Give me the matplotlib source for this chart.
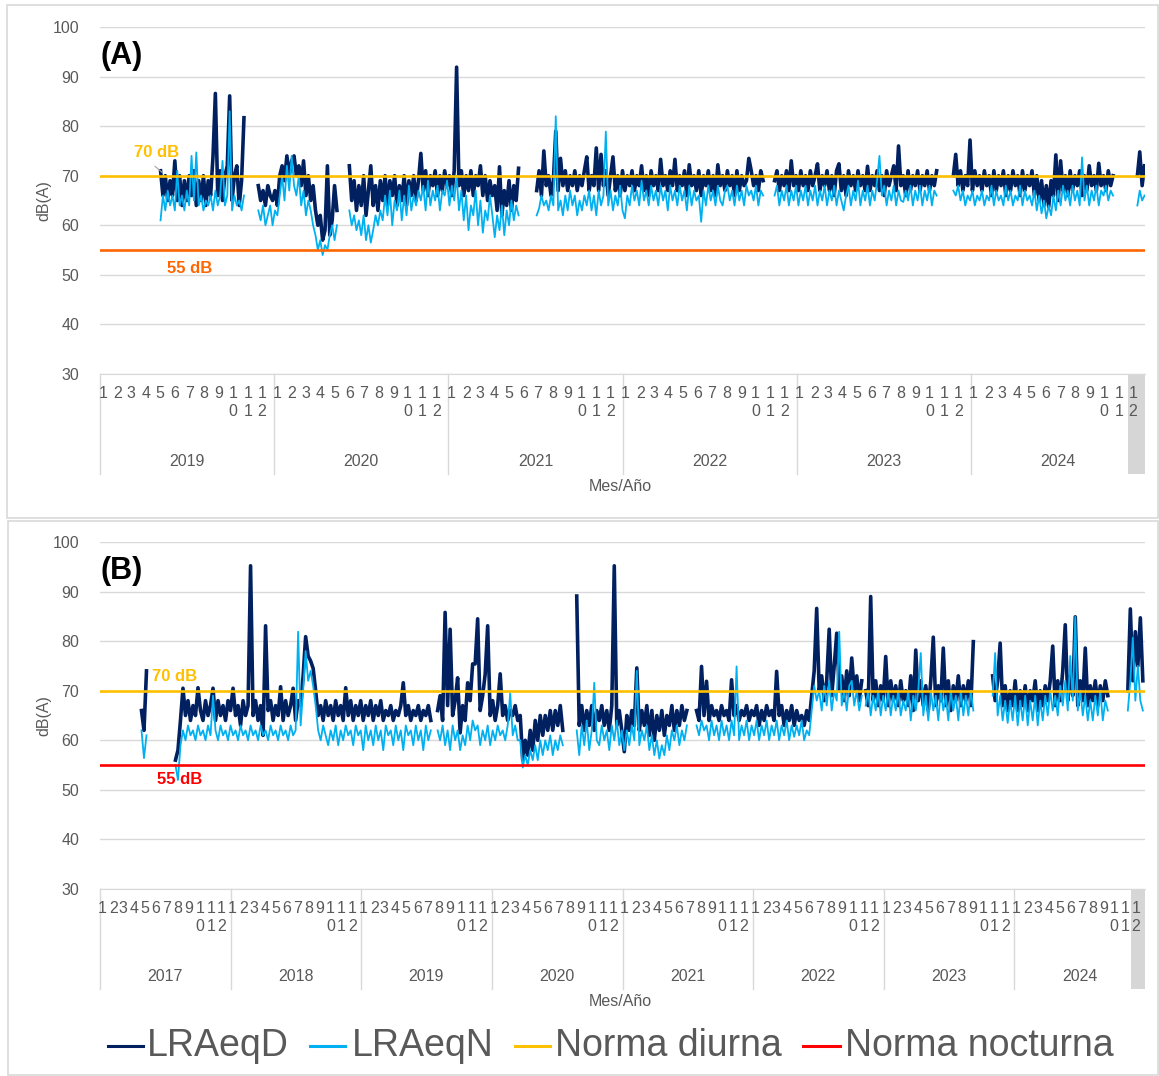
import numpy as np
import matplotlib
matplotlib.use("Agg")
import matplotlib.pyplot as plt
from matplotlib.transforms import blended_transform_factory
from matplotlib.patches import Rectangle
from matplotlib.lines import Line2D

plt.rcParams['font.family'] = ['Liberation Sans', 'DejaVu Sans']

NAVY = '#002060'
CYAN = '#00B0F0'
GOLD = '#FFC000'
ORANGE = '#FF6600'
RED = '#FF0000'
GRID = '#D9D9D9'
TXT = '#595959'

# ---------------- data ----------------
month_labels = ['1', '2', '3', '4', '5', '6', '7', '8', '9', '10', '11', '12']
years_a = [2019, 2020, 2021, 2022, 2023, 2024]
years_b = [2017, 2018, 2019, 2020, 2021, 2022, 2023, 2024]
norma_diurna = 70
norma_nocturna = 55
series_names = ['LRAeqD', 'LRAeqN', 'Norma diurna', 'Norma nocturna']

# Panel (A): measurement blocks, one value every step_a days from each start date
step_a = 5
starts_a = ['2019-05-08', '2019-11-29', '2020-06-07', '2021-07-05',
            '2022-11-16', '2023-11-26', '2024-12-16']

d_a1 = [71, 66, 70, 65, 69, 66, 73, 65, 70, 64, 69, 65, 70, 66, 71, 64, 69, 65, 70, 64,
        69, 66, 73.8, 86.6, 66, 71, 65, 70, 72, 86.1, 65, 70, 72, 64, 69, 81.7]
n_a1 = [61, 66, 63, 67, 64, 66, 63, 71, 64, 66, 63, 67, 64, 74, 65, 74.7, 64, 66, 63, 65,
        64, 66, 63, 67, 64, 66, 73, 64, 66, 83, 63, 66, 64, 65, 63, 66]
d_a2 = [68, 65, 67, 64, 68, 66, 65, 67, 64, 70, 72, 69, 74, 70, 73, 74, 70, 72, 68, 73,
        66, 70, 65, 68, 63, 60, 62, 57, 59, 72, 58, 61, 68, 63]
n_a2 = [63, 61, 64, 60, 62, 64, 60, 63, 62, 66, 70, 65, 72, 67, 74, 68, 66, 70, 64, 67,
        62, 65, 63, 60, 58, 55, 57, 54, 56, 55, 58, 60, 57, 60]
d_a3 = [72, 65, 69, 63, 68, 64, 70, 62, 67, 72, 64, 68, 63, 69,
        65, 70, 64, 69, 66, 70, 64, 68, 65, 70, 64, 69, 66, 70, 65, 69,
        74.5, 67, 71, 66, 70, 68, 71, 66, 70, 67, 71, 68, 70, 66, 71, 91.9,
        68, 71, 66, 70, 67, 71, 66, 70, 68, 72, 66, 70, 65, 69, 66,
        68, 63, 71.8, 62, 67, 64, 69, 63, 68, 65, 71.5]
n_a3 = [63, 60, 62, 59, 61, 58, 62, 57, 60, 56.5, 59, 62, 60, 63,
        61, 66, 62, 67, 60, 65, 63, 67, 61, 66, 62, 68, 63, 66, 64, 67,
        65, 68, 63, 69, 64, 67, 65, 68, 63, 67, 66, 69, 64, 68, 65, 70,
        63, 67, 61, 66, 59, 64, 62, 67, 60, 65, 58.5, 63, 61, 66, 62,
        57.6, 62, 59, 64, 58, 63, 60, 65, 61, 64, 62]
d_a4 = [67, 71, 66, 75, 68, 70, 66, 69, 79, 67,
        73.5, 68, 71, 67, 70, 68, 71, 67, 70, 68,
        71, 73.8, 67, 70, 68, 75.6, 67, 74.3, 68, 71,
        66, 70, 73.8, 67, 70, 66, 71, 67, 70, 68,
        71, 67, 70, 68, 72, 67, 70, 66, 71, 68,
        70, 67, 73.3, 68, 70, 67, 71, 68, 73.3, 67,
        70, 68, 71, 66, 72.2, 68, 70, 67, 71, 66,
        70, 68, 71, 67, 70, 66, 72.2, 68, 70, 67,
        71, 68, 70, 66, 71, 67, 70, 68, 69, 73.5,
        71, 68, 70, 67, 71, 69]
n_a4 = [62, 63.4, 66, 64, 65, 63, 66, 64, 82, 63,
        65, 62, 66, 63, 67, 64, 66, 62, 65, 63,
        66, 64, 67, 63, 66, 62, 67, 64, 66, 78.9,
        64, 67, 63, 66, 64, 68, 63, 61.4, 66, 64,
        68, 65, 67, 64, 69, 65, 67, 64, 68, 65,
        67, 64, 68, 65, 67, 63, 68, 65, 67, 64,
        68, 65, 67, 63, 68, 64, 67, 65, 66, 60.7,
        67, 64, 68, 65, 67, 64, 68, 65, 64, 67,
        68, 65, 67, 64, 68, 65, 67, 64, 68, 66,
        67, 65, 68, 64, 67, 66]
d_a5 = [69, 71, 67, 70, 68, 71, 67, 73, 68, 70,
        67, 71, 68, 70, 67, 71, 68, 70, 72.4, 67,
        70, 68, 71, 67, 70, 66, 71, 72.4, 67, 70,
        66, 71, 68, 70, 67, 71, 68, 70, 67, 71.9,
        67, 70, 68, 71, 67, 70, 66, 71, 68, 70,
        72, 67, 76, 68, 70, 66, 71, 67, 70, 68,
        71, 67, 70, 68, 71, 67, 70, 68, 71]
n_a5 = [66, 68, 64, 67, 65, 68, 64, 67, 65, 68,
        64, 67, 65, 68, 64, 67, 65, 68, 64, 67,
        65, 68, 64, 67, 65, 68, 64, 67, 65, 63,
        66, 68, 64, 67, 65, 69, 64, 67, 65, 68,
        64, 67, 65, 69, 74, 66, 68, 64, 67, 65,
        68, 64, 67, 65, 64.7, 67, 65, 68, 64, 67,
        65, 68, 64, 67, 65, 68, 64, 67, 66]
d_a6 = [70, 74.3, 68, 71, 67, 70, 68, 77.2, 67, 71,
        68, 70, 67, 71, 68, 70, 66, 71, 67, 70,
        68, 71, 66, 70, 67, 71, 68, 70, 66, 71,
        67, 70, 68, 71, 66, 70, 65, 69, 64, 68,
        63.7, 69, 66, 74.2, 65, 73, 67, 70, 66, 71,
        67, 70, 68, 71, 66, 70, 67, 72, 68, 70,
        67, 72.5, 68, 70, 67, 71, 68, 70]
n_a6 = [67, 66, 68, 65, 67, 64, 66, 65, 67, 64,
        66, 65, 67, 64, 66, 65, 68, 64, 67, 65,
        66, 64, 68, 65, 67, 64, 66, 65, 68, 64,
        67, 65, 66, 64, 67, 63, 66, 62.4, 65, 61.4,
        64, 62, 66, 63, 67, 64, 68, 65, 67, 64,
        68, 65, 67, 64, 73.7, 65, 68, 64, 67, 65,
        68, 64, 67, 66, 68, 65, 67, 66]
d_a7 = [70, 74.8, 68, 72]
n_a7 = [64, 67, 65, 66]

lraeqd_a = [d_a1, d_a2, d_a3, d_a4, d_a5, d_a6, d_a7]
lraeqn_a = [n_a1, n_a2, n_a3, n_a4, n_a5, n_a6, n_a7]

# Panel (B): one value every step_b days from each start date
step_b = 7
starts_b = ['2017-04-27', '2017-07-31', '2019-08-03', '2020-08-26',
            '2021-07-27', '2022-11-12', '2023-11-02', '2024-11-14']

d_b1 = [66, 62, 74]
n_b1 = [62, 56.4, 61]
d_b2 = [56, 58, 64, 70.5, 65, 68, 64, 67, 65, 70.6,
        66, 64, 68, 65, 67, 70.5, 64, 68, 65, 67,
        64, 68, 66, 70.5, 65, 67, 63, 68, 65, 67,
        95.2, 65, 68, 64, 67, 61, 83.1, 66, 68, 64,
        67, 65, 70.8, 64, 68, 65, 67, 70.5, 64, 68,
        67, 73, 80.9, 77, 76, 74.5, 70, 65, 67, 64,
        68, 65, 67, 64, 68, 65, 67, 64, 70.6, 65,
        68, 64, 67, 65, 68, 64, 67, 65, 68, 64,
        67, 65, 68, 64, 66, 65, 67, 64, 66, 65,
        67, 71.6, 65, 67, 64, 66, 65, 67, 64, 66,
        65, 67, 64]
n_b2 = [55, 52, 59, 62, 60, 63, 61, 62, 60, 63,
        61, 62, 60, 63, 61, 69, 62, 60, 63, 61,
        62, 60, 63, 61, 62, 60, 63, 61, 62, 60,
        63, 61, 62, 60, 63, 61, 62, 60, 63, 61,
        62, 60, 63, 61, 62, 60, 63, 61, 62, 81.9,
        63, 70, 78, 72, 74, 71, 67, 62, 60, 63,
        61, 59, 62, 60, 63, 59, 62, 60, 63, 61,
        62, 59, 63, 61, 62, 58, 63, 60, 62, 59,
        63, 60, 62, 58, 63, 61, 62, 59, 63, 60,
        62, 58, 63, 61, 62, 59, 63, 60, 62, 58,
        63, 60, 62]
d_b3 = [66, 69, 64, 85.8, 67, 82.4, 65, 68, 72.6, 61.5,
        67, 64, 71.6, 68, 75.4, 75.4, 84.5, 66, 69, 73.3,
        83.1, 65, 68, 64, 67, 73.4, 65, 67, 64, 66,
        65, 67, 64,
        65, 56, 60, 57, 62, 58, 64, 60, 65, 61, 65, 62, 66, 62, 66, 63, 67, 62]
n_b3 = [62, 60, 63, 59, 62, 58, 63, 60, 62, 58,
        61, 59, 63, 60, 64, 62, 63, 59, 62, 60,
        63, 59, 62, 60, 63, 61, 62, 60, 63, 69.5,
        61, 63, 60,
        60, 54.5, 57, 55, 58, 56, 59, 56, 60, 57, 60, 58, 61, 57, 60, 58, 61, 59]
d_b4 = [89.1, 63, 67, 62, 66, 63, 67, 62, 66, 64,
        67, 63, 66, 62, 67, 95.2, 63, 66, 62, 57.7,
        65, 62, 66, 63, 74.6, 62, 66, 63, 67, 61,
        66, 60, 65, 62, 66, 61, 65, 63, 67, 62,
        66, 63, 67, 64, 66]
n_b4 = [62, 57, 63, 59, 64, 58, 62, 71.6, 60, 59,
        63, 60, 62, 58, 63, 60, 64, 59, 62, 58,
        62, 59, 63, 60, 74, 59, 62, 60, 63, 58,
        61, 57, 60, 56.3, 59, 57, 61, 58, 62, 60,
        63, 59, 62, 60, 63]
d_b5 = [66, 64, 74.9, 65, 71.9, 64, 67, 65, 66, 64,
        67, 65, 66, 64, 72.2, 65, 67, 64, 66, 65,
        67, 64, 66, 65, 67, 63, 66, 64, 67, 65,
        66, 64, 73.9, 65, 67, 63, 66, 64, 67, 63,
        66, 64, 65, 63, 66, 64,
        69, 74, 86.6, 70, 73, 68, 72, 82.4, 69, 75, 81.6, 70,
        73, 68, 74, 69, 76.6, 70, 73, 68, 72]
n_b5 = [63, 61, 64, 62, 63, 60, 64, 61, 63, 60,
        64, 61, 63, 60, 64, 61, 74.9, 60, 63, 61,
        64, 60, 63, 61, 64, 60, 63, 61, 64, 60,
        63, 61, 64, 60, 63, 61, 64, 60, 63, 60.7,
        63, 61, 64, 60, 62, 61,
        66, 71, 68, 70, 66, 71, 67, 72, 66, 70, 68, 81.9,
        67, 70, 66, 71, 72, 67, 70, 66, 69]
d_b6 = [70, 67, 89.0, 68, 72, 67, 71, 68, 76.9, 67,
        72, 68, 71, 67, 72, 68, 70, 67, 73, 66,
        78.2, 68, 72, 67, 71, 66, 72, 80.8, 67, 71,
        68, 78.6, 67, 72, 66, 71, 68, 73, 67, 71,
        68, 72, 67, 79.9]
n_b6 = [67, 70, 65, 69, 66, 70, 65, 69, 66, 70,
        65, 69, 66, 70, 65, 68, 66, 70, 64, 69,
        66, 70, 77.6, 65, 69, 64, 70, 66, 69, 64,
        70, 66, 69, 64, 70, 66, 69, 64, 70, 65,
        69, 65, 70, 66]
d_b7 = [73, 68, 72, 79.6, 67, 71, 66, 70, 67, 72,
        66, 70, 67, 71, 66, 70, 68, 72, 66, 70,
        67, 71, 68, 72, 79.0, 67, 72, 68, 74, 83.3,
        68, 73, 69, 84.9, 67, 72, 68, 78.6, 67, 71,
        68, 72, 67, 71, 68, 72, 69]
n_b7 = [69, 77.6, 65, 69, 64, 68, 63.5, 68, 64, 69,
        63, 68, 64, 69, 63, 68, 64, 69, 63, 68,
        64, 69, 65, 70, 66, 69, 65, 71, 67, 72,
        66, 77, 68, 84.9, 66, 70, 65, 69, 64, 68,
        64, 69, 65, 70, 64, 68, 66]
d_b8 = [70, 86.5, 72, 81.9, 75, 84.7, 72]
n_b8 = [66, 72, 80.7, 68, 75, 68, 66]

lraeqd_b = [d_b1, d_b2, d_b3, d_b4, d_b5, d_b6, d_b7, d_b8]
lraeqn_b = [n_b1, n_b2, n_b3, n_b4, n_b5, n_b6, n_b7, n_b8]

# ---------------- figure ----------------
W, H = 1159, 1076
fig = plt.figure(figsize=(W / 100, H / 100), dpi=100)


def axes_px(left, top, right, bottom):
    return fig.add_axes([left / W, 1 - bottom / H, (right - left) / W, (bottom - top) / H])


def draw_panel(ax, tag, years, starts, step, d_segs, n_segs, night_color,
               lbl70_xy, lbl55_xy, gray_from):
    origin = np.datetime64(f'{years[0]}-01-01')
    total = int((np.datetime64(f'{years[-1] + 1}-01-01') - origin).astype(int))

    for s, vals in zip(starts, d_segs):
        t0 = int((np.datetime64(s) - origin).astype(int))
        ax.plot(t0 + step * np.arange(len(vals)), vals, color=NAVY, lw=2.6, zorder=3,
                solid_joinstyle='round')
    for s, vals in zip(starts, n_segs):
        t0 = int((np.datetime64(s) - origin).astype(int))
        ax.plot(t0 + step * np.arange(len(vals)), vals, color=CYAN, lw=1.3, zorder=4)

    ax.axhline(norma_diurna, color=GOLD, lw=1.9, zorder=5)
    ax.axhline(norma_nocturna, color=night_color, lw=1.9, zorder=5)

    ax.set_xlim(0, total)
    ax.set_ylim(30, 100)
    ax.set_yticks(range(30, 101, 10))
    ax.set_xticks([])
    ax.grid(axis='y', color=GRID, lw=1.0)
    ax.set_axisbelow(True)
    for sp in ['top', 'right', 'left']:
        ax.spines[sp].set_visible(False)
    ax.spines['bottom'].set_color(GRID)
    ax.tick_params(axis='y', length=0, pad=15, labelsize=11.5, labelcolor=TXT)

    ax.text(-0.0536, 0.5, 'dB(A)', transform=ax.transAxes, rotation=90,
            ha='center', va='center', fontsize=11.5, color=TXT)
    ax.text(0.0, 0.915, tag, transform=ax.transAxes, ha='left', va='center',
            fontsize=22, fontweight='bold', color='black')

    tr = blended_transform_factory(ax.transAxes, ax.transData)
    ax.text(lbl70_xy[0], lbl70_xy[1], f'{norma_diurna} dB', transform=tr, ha='center',
            va='center', fontsize=12, fontweight='bold', color=GOLD, zorder=6)
    ax.text(lbl55_xy[0], lbl55_xy[1], f'{norma_nocturna} dB', transform=tr, ha='center',
            va='center', fontsize=12, fontweight='bold', color=night_color, zorder=6)

    # multi-level category axis: months, then years
    trx = blended_transform_factory(ax.transData, ax.transAxes)
    row1, row2, yrow, sep_bottom = -0.0548, -0.1095, -0.2536, -0.288
    for y in years:
        y0 = int((np.datetime64(f'{y}-01-01') - origin).astype(int))
        y1 = int((np.datetime64(f'{y + 1}-01-01') - origin).astype(int))
        ax.plot([y0, y0], [0, sep_bottom], transform=trx, clip_on=False,
                color=GRID, lw=1.0)
        ax.text((y0 + y1) / 2, yrow, str(y), transform=trx, ha='center', va='center',
                fontsize=11.5, color=TXT)
        for m, lab in enumerate(month_labels, start=1):
            m0 = int((np.datetime64(f'{y}-{m:02d}-01') - origin).astype(int))
            xm = m0 + 6
            ax.text(xm, row1, lab[0], transform=trx, ha='center', va='center',
                    fontsize=11.5, color=TXT)
            if len(lab) > 1:
                ax.text(xm, row2, lab[1], transform=trx, ha='center', va='center',
                        fontsize=11.5, color=TXT)
    ax.add_patch(Rectangle((gray_from, sep_bottom), 1 - gray_from, -sep_bottom,
                           transform=ax.transAxes, clip_on=False,
                           facecolor='#D6D6D6', edgecolor='none'))
    ax.text(0.498, -0.325, 'Mes/Año', transform=ax.transAxes, ha='center', va='center',
            fontsize=11.5, color=TXT)


# panel frames
fig.add_artist(Rectangle((7 / W, 1 - 518 / H), 1151 / W, 513 / H, transform=fig.transFigure,
                         fill=False, edgecolor=GRID, lw=1.2))
fig.add_artist(Rectangle((8 / W, 1 - 1075 / H), 1150 / W, 554 / H, transform=fig.transFigure,
                         fill=False, edgecolor=GRID, lw=1.2))

ax_a = axes_px(100, 27, 1145, 374)
ax_b = axes_px(100, 542, 1145, 889)

draw_panel(ax_a, '(A)', years_a, starts_a, step_a, lraeqd_a, lraeqn_a, ORANGE,
           (0.0545, 74.7), (0.0861, 51.3), 0.9837)
draw_panel(ax_b, '(B)', years_b, starts_b, step_b, lraeqd_b, lraeqn_b, RED,
           (0.0718, 72.8), (0.0766, 52.0), 0.9866)

# small leader line from the 70 dB label in panel (A)
tra = blended_transform_factory(ax_a.transAxes, ax_a.transData)
ax_a.plot([0.0526, 0.0593], [71.9, 70.7], transform=tra, color='#A6A6A6', lw=0.8, zorder=6)

# legend
ly = 1 - 1046 / H
legend_items = [(108, 143, 147, NAVY), (310, 345, 352, CYAN),
                (515, 550, 555, GOLD), (803, 840, 845, RED)]
for (x0, x1, tx, col), name in zip(legend_items, series_names):
    fig.add_artist(Line2D([x0 / W, x1 / W], [ly, ly], color=col, lw=2.2,
                          transform=fig.transFigure))
    fig.text(tx / W, ly, name, fontsize=27, color=TXT, ha='left', va='center')

fig.savefig('out.png', dpi=100, facecolor='white')
